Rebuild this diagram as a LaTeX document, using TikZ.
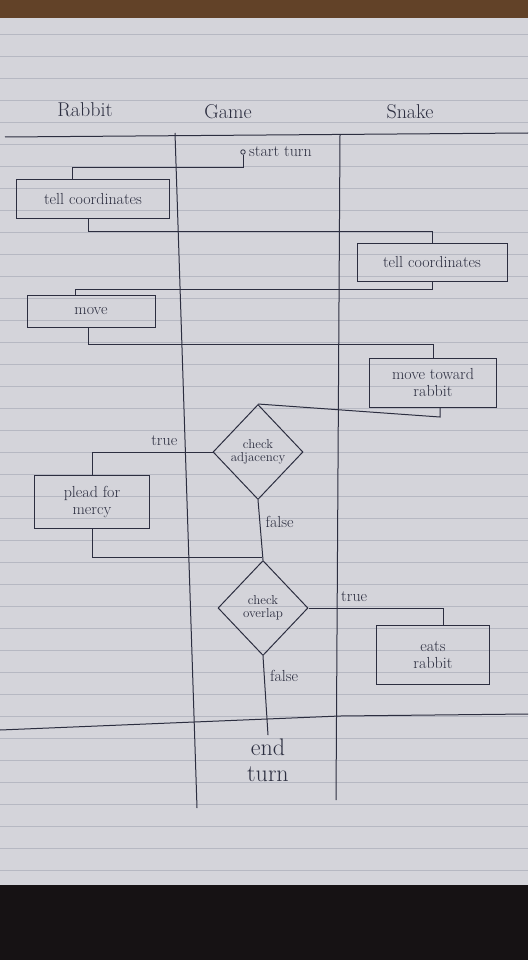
\documentclass[tikz,border=0pt]{standalone}
\usepackage{tikz}
\usetikzlibrary{shapes.geometric}
\definecolor{paper}{RGB}{212,212,218}
\definecolor{ruling}{RGB}{182,184,194}
\definecolor{ink}{RGB}{44,46,64}
\definecolor{woodbrown}{RGB}{98,66,40}
\definecolor{tabledark}{RGB}{22,18,20}

\tikzset{
  lanehead/.style={text=ink, font=\fontsize{20}{22}\selectfont},
  action/.style={draw=ink, line width=1pt, rectangle, align=center, text=ink,
    font=\fontsize{16}{17}\selectfont, inner sep=2pt},
  decision/.style={draw=ink, line width=1pt, diamond, align=center, text=ink,
    font=\fontsize{13}{13}\selectfont, inner sep=0pt,
    minimum width=90pt, minimum height=95pt},
  flow/.style={draw=ink, line width=1pt},
  guard/.style={text=ink, font=\fontsize{16}{17}\selectfont}
}

\begin{document}
\begin{tikzpicture}[x=1pt, y=-1pt]
    \useasboundingbox (0,0) rectangle (528,960);

    % Table and sheet of paper
    \fill[tabledark] (0,0) rectangle (528,960);
    \fill[woodbrown] (0,0) rectangle (528,18);
    \fill[paper] (0,18) rectangle (528,885);
    \foreach \y in {34,56,...,880}
        \draw[ruling, thin] (0,\y) -- (528,\y);

    % Swimlanes
    \draw[flow] (5,137) -- (528,133);
    \draw[flow] (175,133) -- (197,808);
    \draw[flow] (340,135) -- (336,800);
    \draw[flow] (0,730) -- (340,716) -- (528,714);
    \node[lanehead] (rabbit) at (85,110) {Rabbit};
    \node[lanehead] (game) at (228,112) {Game};
    \node[lanehead] (snake) at (410,112) {Snake};

    % Start
    \node[draw=ink, thick, circle, inner sep=1.6pt,
          label={[guard]right:start turn}] (start) at (243,152) {};

    % Actions
    \node[action, minimum width=153pt, minimum height=38pt] (tellR) at (93,199) {tell coordinates};
    \node[action, minimum width=150pt, minimum height=38pt] (tellS) at (432,262) {tell coordinates};
    \node[action, minimum width=128pt, minimum height=32pt] (move) at (91,311) {move};
    \node[action, minimum width=127pt, minimum height=49pt] (toward) at (433,383) {move toward\\rabbit};
    \node[action, minimum width=115pt, minimum height=53pt] (plead) at (92,502) {plead for\\mercy};
    \node[action, minimum width=113pt, minimum height=59pt] (eats) at (433,655) {eats\\rabbit};

    % Decisions
    \node[decision] (adjacent) at (258,452) {check\\adjacency};
    \node[decision] (overlap) at (263,608) {check\\overlap};
    \coordinate (merge) at (262,557);

    % End
    \node[text=ink, align=center, font=\fontsize{24}{26}\selectfont] (endturn) at (268,760) {end\\turn};

    % Flow
    \draw[flow] (start.south) |- ([xshift=-21pt,yshift=12pt]tellR.north) -- ([xshift=-21pt]tellR.north);
    \draw[flow] ([xshift=-5pt]tellR.south) |- ([yshift=11pt]tellS.north) -- (tellS.north);
    \draw[flow] (tellS.south) |- ([xshift=-16pt,yshift=5pt]move.north) -- ([xshift=-16pt]move.north);
    \draw[flow] ([xshift=-3pt]move.south) |- ([yshift=14pt]toward.north) -- (toward.north);
    \draw[flow] ([xshift=7pt]toward.south) -- ++(0,9) -- (adjacent.north);
    \draw[flow] (adjacent.west) -| node[guard, pos=0.2, above=3pt] {true} (plead.north);
    \draw[flow] (adjacent.south) -- node[guard, pos=0.37, right=2pt] {false} (overlap.north);
    \draw[flow] (plead.south) |- (merge);
    \draw[flow] (overlap.east) -| node[guard, pos=0.17, above=3pt] {true} ([xshift=10pt]eats.north);
    \draw[flow] (overlap.south) -- node[guard, pos=0.25, right=2pt] {false} (endturn.north);
\end{tikzpicture}
\end{document}
